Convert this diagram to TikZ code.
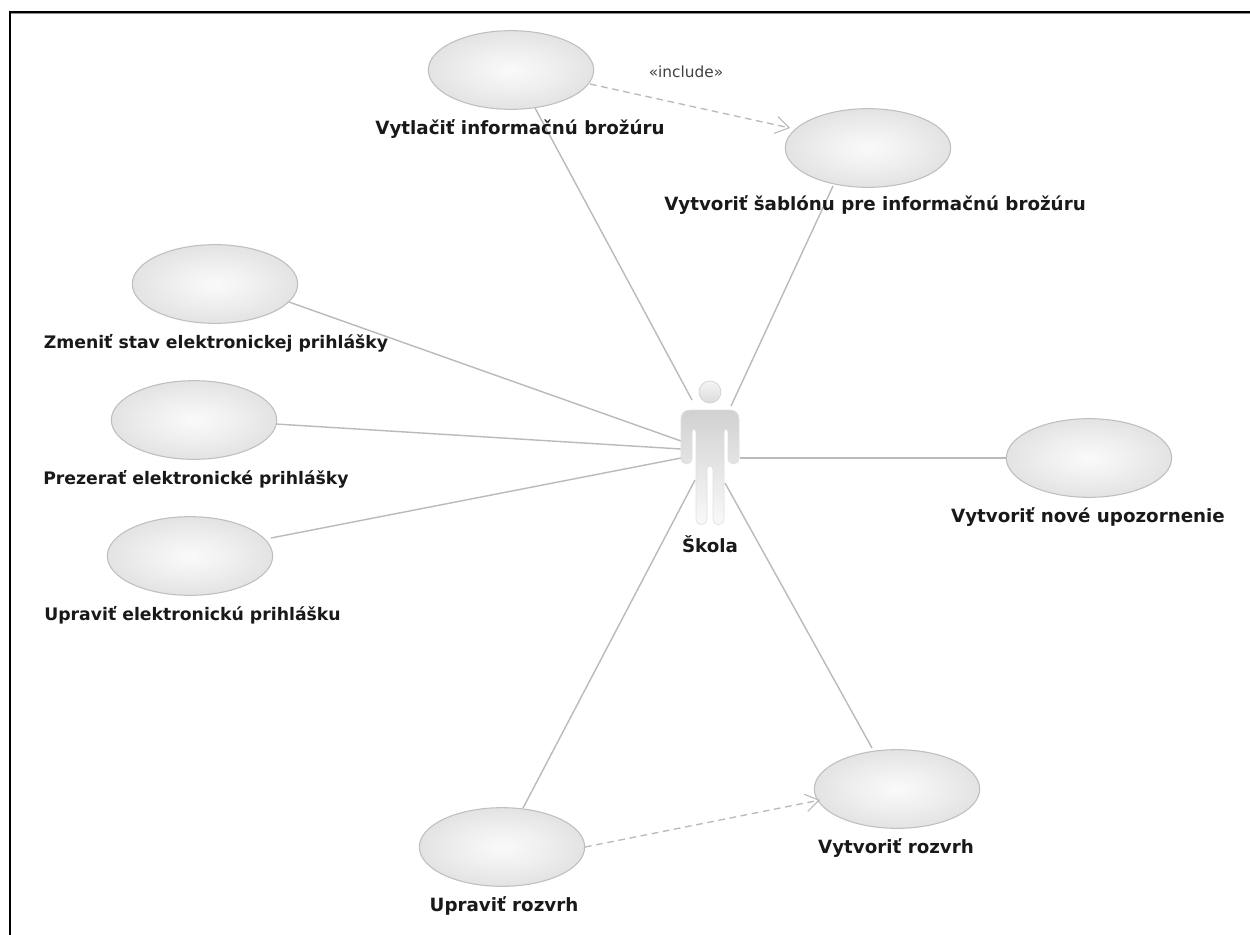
\documentclass[tikz,border=0pt]{standalone}
\usepackage{fontspec}
\setmainfont{DejaVu Sans}
\usetikzlibrary{shapes.geometric,arrows.meta,shadings}
\pgfdeclareradialshading{ucfill}{\pgfpoint{0bp}{0bp}}{color(0bp)=(white!98!black); color(12bp)=(white!94!black); color(25bp)=(white!89!black); color(36bp)=(white!86!black); color(50bp)=(white!85!black)}
\tikzset{
  x=1pt,y=-1pt,
  usecase/.style={ellipse,draw=black!25,line width=0.8pt,minimum width=124pt,minimum height=59pt,inner sep=0pt,shading=ucfill},
  lbl/.style={font=\bfseries\fontsize{13.7}{15}\selectfont,text=black!90,inner sep=0pt},
  lblsmall/.style={lbl,font=\bfseries\fontsize{12.95}{15}\selectfont},
  assoc/.style={draw=black!27,line width=1.05pt},
  dep/.style={draw=black!27,line width=1pt,dash pattern=on 5pt off 3.5pt,-{Straight Barb[length=10pt,width=13pt,line width=0.8pt]}},
}
\begin{document}
\begin{tikzpicture}[scale=0.75]
\useasboundingbox (0,0) rectangle (1250,935);
\fill[white] (0,0) rectangle (1250,935);
\draw[black!45,line width=0.75pt] (1250,13.5) -- (10,13.5);
\draw[black,line width=1.5pt] (1250,12) -- (10,12) -- (10,935);
% use cases
\node[usecase] (a) at (511,70) {};
\node[usecase] (b) at (868,148) {};
\node[usecase] (c) at (215,284) {};
\node[usecase] (d) at (194,420) {};
\node[usecase] (e) at (190,556) {};
\node[usecase] (f) at (1089,458) {};
\node[usecase] (g) at (897,789) {};
\node[usecase] (h) at (502,847) {};
% connector anchors
\coordinate (aA) at (535,108);
\coordinate (aS) at (692,400);
\coordinate (bA) at (833,186);
\coordinate (bS) at (731,406);
\coordinate (cA) at (289,302);
\coordinate (cS) at (681,441);
\coordinate (dA) at (276,424);
\coordinate (dS) at (681,449);
\coordinate (eA) at (271,538);
\coordinate (eS) at (681,458);
\coordinate (fA) at (1007,458);
\coordinate (fS) at (740,458);
\coordinate (gA) at (872,748);
\coordinate (gS) at (725,483);
\coordinate (hA) at (523,808);
\coordinate (hS) at (695,480);
\coordinate (a1) at (590,84);
\coordinate (b1) at (790,128);
\coordinate (h1) at (585,847);
\coordinate (g1) at (820,800);
\draw[assoc] (aA) -- (aS);
\draw[assoc] (bA) -- (bS);
\draw[assoc] (cA) -- (cS);
\draw[assoc] (dA) -- (dS);
\draw[assoc] (eA) -- (eS);
\draw[assoc] (fA) -- (fS);
\draw[assoc] (gA) -- (gS);
\draw[assoc] (hA) -- (hS);
\draw[dep] (a1) -- (b1);
\draw[dep] (h1) -- (g1);
% actor
\shade[top color=black!4,bottom color=black!14,draw=black!18,line width=0.5pt] (710,392) circle (11);
\shade[top color=black!18,bottom color=black!2,draw=black!12,line width=0.5pt]
  (690,410) -- (730,410) .. controls (736,410) and (739,414) .. (739,419)
  -- (739,458) .. controls (739,466) and (728,466) .. (728,458)
  -- (728,433) .. controls (728,428) and (724,428) .. (724,433)
  -- (724,518) .. controls (724,527) and (713,527) .. (713,518)
  -- (713,471) .. controls (713,464) and (707,464) .. (707,471)
  -- (707,518) .. controls (707,527) and (696,527) .. (696,518)
  -- (696,433) .. controls (696,428) and (692,428) .. (692,433)
  -- (692,458) .. controls (692,466) and (681,466) .. (681,458)
  -- (681,419) .. controls (681,414) and (684,410) .. (690,410) -- cycle;
% labels
\node[lbl] (la) at (520,129) {Vytlačiť informačnú brožúru};
\node[lbl] (lb) at (875,205) {Vytvoriť šablónu pre informačnú brožúru};
\node[lblsmall] (lc) at (216,343) {Zmeniť stav elektronickej prihlášky};
\node[lblsmall] (ld) at (196,479) {Prezerať elektronické prihlášky};
\node[lblsmall] (le) at (192.5,615) {Upraviť elektronickú prihlášku};
\node[lbl] (lf) at (1088,517) {Vytvoriť nové upozornenie};
\node[lbl] (lg) at (896,848) {Vytvoriť rozvrh};
\node[lbl] (lh) at (504,906) {Upraviť rozvrh};
\node[lbl] (ls) at (710,544) {Škola};
\node[font=\fontsize{11.5}{13}\selectfont,text=black!75,inner sep=0pt] (inc) at (686,72) {«include»};
\end{tikzpicture}
\end{document}
